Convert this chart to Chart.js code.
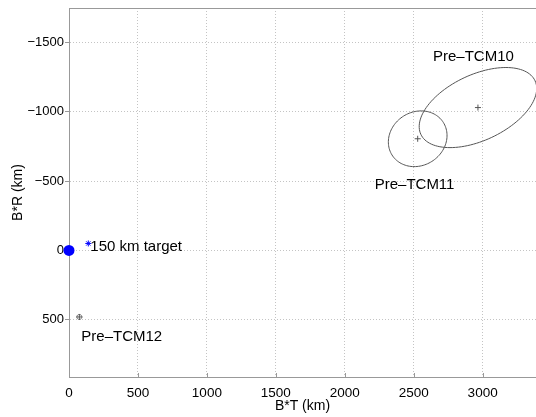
<!DOCTYPE html>
<html>
<head>
<meta charset="utf-8">
<script src="https://cdn.jsdelivr.net/npm/chart.js@4/dist/chart.umd.min.js"></script>
<style>
  html, body { margin: 0; padding: 0; background: #fff; }
  #wrap { width: 536px; height: 417px; }
</style>
</head>
<body>
<div id="wrap"><canvas id="bplane"></canvas></div>
<script>
// B-plane: aim point and pre-TCM orbit determination solutions (km)

const xTicks = [0, 500, 1000, 1500, 2000, 2500, 3000];
const yTicks = [-1500, -1000, -500, 0, 500];

const targetT = [0];
const targetR = [0];
const aimT = [140];
const aimR = [-50];
const aimLabel = '150 km target';

const solNames = ['Pre\u2013TCM10', 'Pre\u2013TCM11', 'Pre\u2013TCM12'];
const solT = [2966, 2529, 75];
const solR = [-1030, -805, 480];
// error ellipses: semi-axes (km) and tilt from +B*T toward +B*R (deg)
const ellMajor = [457, 220, 18];
const ellMinor = [237, 193, 18];
const ellTilt = [-25, -32, 0];

// label offsets from their marker, in pixels
const labelOffsets = [[-45, -51], [-43, 46], [2, 20]];
const aimLabelOffset = [2, 3];

const GREY = '#555';
const FONT = "'Liberation Sans', Arial, Helvetica, sans-serif";

Chart.defaults.font.family = FONT;
Chart.defaults.color = '#000';

const annotate = {
    id: 'annotate',
    beforeDatasetsDraw(chart) {
        const { ctx, scales: { x, y } } = chart;
        ctx.save();
        ctx.strokeStyle = GREY;
        ctx.lineWidth = 1;
        solT.forEach((t, i) => {
            const th = ellTilt[i] * Math.PI / 180;
            ctx.beginPath();
            for (let k = 0; k <= 120; k++) {
                const u = k / 120 * 2 * Math.PI;
                const dt = ellMajor[i] * Math.cos(u) * Math.cos(th) - ellMinor[i] * Math.sin(u) * Math.sin(th);
                const dr = ellMajor[i] * Math.cos(u) * Math.sin(th) + ellMinor[i] * Math.sin(u) * Math.cos(th);
                const px = x.getPixelForValue(t + dt);
                const py = y.getPixelForValue(solR[i] + dr);
                if (k === 0) ctx.moveTo(px, py); else ctx.lineTo(px, py);
            }
            ctx.closePath();
            ctx.stroke();
        });
        ctx.restore();
    },
    afterDraw(chart) {
        const { ctx, chartArea, scales: { x, y } } = chart;
        ctx.save();
        // top frame line
        ctx.strokeStyle = '#999';
        ctx.lineWidth = 1;
        ctx.beginPath();
        ctx.moveTo(chartArea.left, chartArea.top + 0.5);
        ctx.lineTo(chartArea.right, chartArea.top + 0.5);
        ctx.stroke();
        // inner ticks on the bottom axis
        xTicks.forEach(v => {
            const px = Math.round(x.getPixelForValue(v)) + 0.5;
            ctx.beginPath();
            ctx.moveTo(px, chartArea.bottom);
            ctx.lineTo(px, chartArea.bottom - 4);
            ctx.stroke();
        });
        // labels
        ctx.fillStyle = '#000';
        ctx.font = '15px ' + FONT;
        ctx.textBaseline = 'middle';
        ctx.textAlign = 'left';
        solNames.forEach((name, i) => {
            const px = x.getPixelForValue(solT[i]) + labelOffsets[i][0];
            const py = y.getPixelForValue(solR[i]) + labelOffsets[i][1];
            ctx.fillText(name, px, py);
        });
        ctx.fillText(aimLabel,
            x.getPixelForValue(aimT[0]) + aimLabelOffset[0],
            y.getPixelForValue(aimR[0]) + aimLabelOffset[1]);
        ctx.restore();
    }
};

const toPts = (ts, rs) => ts.map((t, i) => ({ x: t, y: rs[i] }));

new Chart(document.getElementById('bplane'), {
    type: 'scatter',
    data: {
        datasets: [
            {
                label: 'Solutions',
                data: toPts(solT, solR),
                pointStyle: 'cross',
                pointRadius: 3,
                borderColor: GREY,
                borderWidth: 1,
            },
            {
                label: 'Aim',
                data: toPts(aimT, aimR),
                pointStyle: 'star',
                pointRadius: 3,
                borderColor: '#0000ff',
                borderWidth: 1,
            },
            {
                label: 'Target',
                data: toPts(targetT, targetR),
                pointStyle: 'circle',
                pointRadius: 5.5,
                backgroundColor: '#0000ff',
                borderColor: '#0000ff',
                borderWidth: 0,
                clip: false,
            }
        ]
    },
    plugins: [annotate],
    options: {
        responsive: true,
        maintainAspectRatio: false,
        animation: false,
        layout: { autoPadding: false, padding: { top: 8, right: 0, left: 0, bottom: 0 } },
        plugins: {
            legend: { display: false },
            tooltip: { enabled: false }
        },
        scales: {
            x: {
                type: 'linear',
                position: 'bottom',
                min: 0,
                max: 3387,
                afterBuildTicks: s => { s.ticks = xTicks.map(v => ({ value: v })); },
                afterFit: s => { s.height = 40; s.paddingLeft = 0; s.paddingRight = 0; },
                grid: { color: '#c4c4c4', drawTicks: false },
                border: { display: true, color: '#999', dash: [1, 2] },
                ticks: { padding: 8, font: { size: 13.5 }, color: '#000', callback: v => String(v) },
                title: { display: true, text: 'B*T (km)', font: { size: 14 }, padding: { top: 0, bottom: 2 } }
            },
            y: {
                type: 'linear',
                reverse: true,
                min: -1748,
                max: 913,
                afterBuildTicks: s => { s.ticks = yTicks.map(v => ({ value: v })); },
                afterFit: s => { s.width = 69; s.paddingTop = 0; s.paddingBottom = 0; },
                grid: { color: '#c4c4c4', tickLength: 4, tickColor: '#999' },
                border: { display: true, color: '#999', dash: [1, 2] },
                ticks: {
                    padding: 1,
                    font: { size: 13 },
                    color: '#000',
                    callback: v => String(v).replace('-', '\u2212')
                },
                title: { display: true, text: 'B*R (km)', font: { size: 14 }, padding: { top: 9.6, bottom: 0 } }
            }
        }
    }
});
</script>
</body>
</html>
